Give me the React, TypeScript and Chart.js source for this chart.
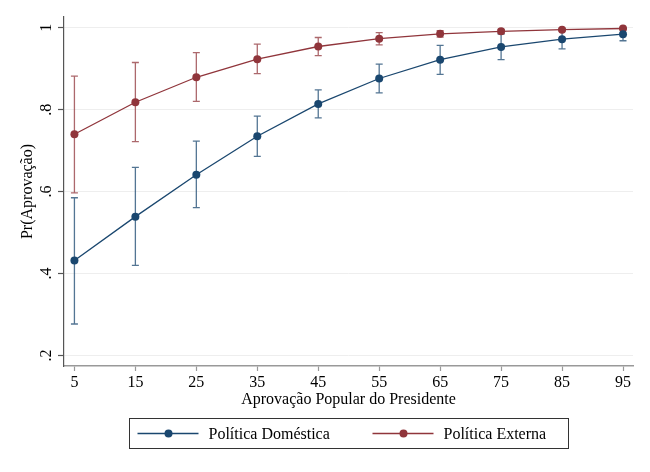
import React, { useEffect, useRef } from "react";
import { Chart, registerables } from "chart.js";

Chart.register(...registerables);

const approval = [5, 15, 25, 35, 45, 55, 65, 75, 85, 95];
const domestic = [0.432, 0.539, 0.641, 0.735, 0.814, 0.876, 0.922, 0.953, 0.972, 0.984];
const domesticLow = [0.277, 0.42, 0.561, 0.686, 0.78, 0.841, 0.886, 0.922, 0.948, 0.968];
const domesticHigh = [0.585, 0.659, 0.723, 0.784, 0.848, 0.911, 0.957, 0.984, 0.994, 0.999];
const foreign = [0.74, 0.818, 0.879, 0.923, 0.954, 0.973, 0.985, 0.991, 0.995, 0.998];
const foreignLow = [0.597, 0.722, 0.82, 0.888, 0.932, 0.958, 0.977, 0.986, 0.992, 0.996];
const foreignHigh = [0.882, 0.915, 0.939, 0.96, 0.976, 0.988, 0.993, 0.996, 0.998, 0.999];
const xTicks = [5, 15, 25, 35, 45, 55, 65, 75, 85, 95];
const yTicks = [0.2, 0.4, 0.6, 0.8, 1];
const yTickLabels = [".2", ".4", ".6", ".8", "1"];
const seriesNames = ["Política Doméstica", "Política Externa"];

const BLUE = "#1a476f";
const RED = "#90353b";
const BLUE_CI = "rgba(26,71,111,0.75)";
const RED_CI = "rgba(144,53,59,0.75)";
const FONT = "'Liberation Serif', 'DejaVu Serif', serif";

const ciSets = [
  { low: domesticLow, high: domesticHigh, color: BLUE_CI },
  { low: foreignLow, high: foreignHigh, color: RED_CI },
];

const errorBarPlugin = {
  id: "errorBars",
  beforeDatasetsDraw(chart: any) {
    const { ctx, scales } = chart;
    const xs = scales.x;
    const ys = scales.y;
    ctx.save();
    ciSets.forEach((s) => {
      ctx.strokeStyle = s.color;
      ctx.lineWidth = 1.3;
      approval.forEach((a, i) => {
        const px = xs.getPixelForValue(a);
        const pl = ys.getPixelForValue(s.low[i]);
        const ph = ys.getPixelForValue(s.high[i]);
        ctx.beginPath();
        ctx.moveTo(px, pl);
        ctx.lineTo(px, ph);
        ctx.moveTo(px - 3.5, pl);
        ctx.lineTo(px + 3.5, pl);
        ctx.moveTo(px - 3.5, ph);
        ctx.lineTo(px + 3.5, ph);
        ctx.stroke();
      });
    });
    ctx.restore();
  },
};

const yLabelPlugin = {
  id: "yLabels",
  afterDraw(chart: any) {
    const { ctx, scales } = chart;
    const ys = scales.y;
    ctx.save();
    ctx.fillStyle = "#000";
    ctx.font = `16px ${FONT}`;
    ctx.textAlign = "center";
    ctx.textBaseline = "middle";
    yTicks.forEach((v, i) => {
      const py = ys.getPixelForValue(v);
      ctx.save();
      ctx.translate(ys.right - 17, py);
      ctx.rotate(-Math.PI / 2);
      ctx.fillText(yTickLabels[i], 0, 0);
      ctx.restore();
    });
    ctx.restore();
  },
};

const legendPlugin = {
  id: "boxLegend",
  afterDraw(chart: any) {
    const { ctx, chartArea } = chart;
    const w = 439;
    const h = 30;
    const cx = (chartArea.left + chartArea.right) / 2;
    const left = Math.round(cx - w / 2) + 0.5;
    const top = 418.5;
    ctx.save();
    ctx.strokeStyle = "#333";
    ctx.lineWidth = 1;
    ctx.strokeRect(left, top, w, h);
    const cy = top + h / 2;
    const items = [
      { color: BLUE, off: 8 },
      { color: RED, off: 243 },
    ];
    ctx.font = `16px ${FONT}`;
    ctx.textBaseline = "middle";
    ctx.textAlign = "left";
    items.forEach((it, i) => {
      const x0 = left + it.off;
      ctx.strokeStyle = it.color;
      ctx.lineWidth = 1.3;
      ctx.beginPath();
      ctx.moveTo(x0, cy);
      ctx.lineTo(x0 + 61, cy);
      ctx.stroke();
      ctx.fillStyle = it.color;
      ctx.beginPath();
      ctx.arc(x0 + 31, cy, 4, 0, Math.PI * 2);
      ctx.fill();
      ctx.fillStyle = "#000";
      ctx.fillText(seriesNames[i], x0 + 71, cy + 1);
    });
    ctx.restore();
  },
};

export default function App() {
  const ref = useRef<HTMLCanvasElement>(null);
  useEffect(() => {
    document.body.style.margin = "0";
    const canvas = ref.current;
    if (!canvas) return;
    const chart = new Chart(canvas, {
      type: "line",
      data: {
        datasets: [
          {
            label: seriesNames[0],
            data: approval.map((a, i) => ({ x: a, y: domestic[i] })),
            borderColor: BLUE,
            backgroundColor: BLUE,
            borderWidth: 1.3,
            pointRadius: 4,
            pointBorderWidth: 0,
            tension: 0,
          },
          {
            label: seriesNames[1],
            data: approval.map((a, i) => ({ x: a, y: foreign[i] })),
            borderColor: RED,
            backgroundColor: RED,
            borderWidth: 1.3,
            pointRadius: 4,
            pointBorderWidth: 0,
            tension: 0,
          },
        ],
      },
      options: {
        animation: false,
        responsive: false,
        devicePixelRatio: 1,
        layout: { padding: { left: 0, top: 17, right: 17, bottom: 63 } },
        plugins: {
          legend: { display: false },
          tooltip: { enabled: false },
        },
        scales: {
          x: {
            type: "linear",
            min: 3.29,
            max: 96.64,
            afterBuildTicks: (scale: any) => {
              scale.ticks = xTicks.map((v) => ({ value: v }));
            },
            afterFit: (scale: any) => {
              scale.height = 43;
            },
            border: { color: "#999", width: 1.5 },
            grid: {
              drawOnChartArea: false,
              drawTicks: true,
              tickLength: 5,
              tickColor: "#999",
              tickWidth: 1.2,
            },
            ticks: {
              color: "#000",
              font: { family: FONT, size: 16 },
              padding: 2,
              maxRotation: 0,
              autoSkip: false,
              callback: (v: any) => String(v),
            },
            title: {
              display: true,
              text: "Aprovação Popular do Presidente",
              color: "#000",
              font: { family: FONT, size: 16 },
              padding: { top: 0, bottom: 0 },
            },
          },
          y: {
            type: "linear",
            min: 0.1746,
            max: 1.026,
            afterBuildTicks: (scale: any) => {
              scale.ticks = yTicks.map((v) => ({ value: v }));
            },
            afterFit: (scale: any) => {
              scale.width = 64;
            },
            border: { color: "#555", width: 1.2 },
            grid: {
              color: "#eeeeee",
              lineWidth: 1,
              drawTicks: true,
              tickLength: 6,
              tickColor: "#555",
              tickWidth: 1.2,
            },
            ticks: { display: false },
            title: {
              display: true,
              text: "Pr(Aprovação)",
              color: "#000",
              font: { family: FONT, size: 16 },
              padding: { top: 18, bottom: 0 },
            },
          },
        },
      },
      plugins: [errorBarPlugin, yLabelPlugin, legendPlugin],
    });
    return () => chart.destroy();
  }, []);
  return (
    <div style={{ position: "fixed", left: 0, top: 0, width: 650, height: 472, background: "#fff" }}>
      <canvas ref={ref} width={650} height={472} style={{ width: 650, height: 472 }} />
    </div>
  );
}
